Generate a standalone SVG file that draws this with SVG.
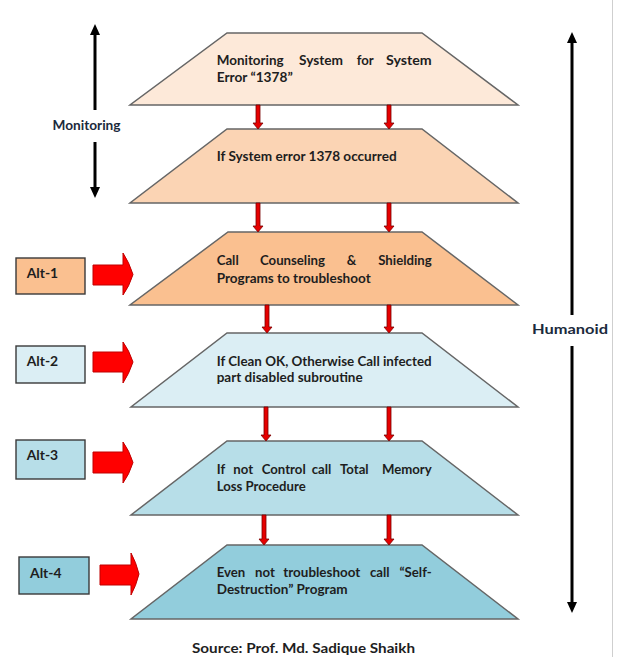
<svg xmlns="http://www.w3.org/2000/svg" width="617" height="657" viewBox="0 0 617 657">
<defs>
<style>
.trap{stroke:#666666;stroke-width:1.5;}
.alt{stroke:#3a3a3a;stroke-width:1.4;}
.t{font-family:Lato,"Open Sans","Liberation Sans",sans-serif;font-weight:bold;font-size:13.2px;fill:#1e1e1e;}
.lbl{font-family:Lato,"Open Sans","Liberation Sans",sans-serif;font-weight:bold;font-size:13px;fill:#1b2a3c;}
.thin{fill:#e60000;stroke:#7a0000;stroke-width:0.8;}
.big{fill:#ff0000;stroke:#c00000;stroke-width:1;}
.blk{stroke:#000;stroke-width:3;fill:none;}
</style>
</defs>
<rect width="617" height="657" fill="#ffffff"/>
<line x1="612.5" y1="0" x2="612.5" y2="657" stroke="#cfcfcf" stroke-width="1"/>

<g id="node-1">
<polygon class="trap" fill="#fde9d9" points="227,33 422,33 518,105 130,105"/>
<text class="t" x="216.7" y="65" textLength="67" lengthAdjust="spacingAndGlyphs">Monitoring</text>
<text class="t" x="299" y="65" textLength="44" lengthAdjust="spacingAndGlyphs">System</text>
<text class="t" x="356.7" y="65" textLength="17" lengthAdjust="spacingAndGlyphs">for</text>
<text class="t" x="386" y="65" textLength="45.7" lengthAdjust="spacingAndGlyphs">System</text>
<text class="t" x="216.7" y="82" textLength="76" lengthAdjust="spacingAndGlyphs">Error “1378”</text>
</g>

<g id="node-2">
<polygon class="trap" fill="#fbd4b4" points="227,129 422,129 518,203 130,203"/>
<text class="t" x="216.7" y="161" textLength="180" lengthAdjust="spacingAndGlyphs">If System error 1378 occurred</text>
</g>

<g id="node-3">
<polygon class="trap" fill="#fac090" points="228,232 422,232 518,305 130,305"/>
<text class="t" x="216.7" y="265">Call</text>
<text class="t" x="260" y="265">Counseling</text>
<text class="t" x="346.7" y="265">&amp;</text>
<text class="t" x="431.7" y="265" text-anchor="end">Shielding</text>
<text class="t" x="216.7" y="282.5" textLength="154" lengthAdjust="spacingAndGlyphs">Programs to troubleshoot</text>
</g>

<g id="node-4">
<polygon class="trap" fill="#dbeef4" points="227,333 422,333 518,407 131,407"/>
<text class="t" x="216.7" y="366" textLength="215" lengthAdjust="spacingAndGlyphs">If Clean OK, Otherwise Call infected</text>
<text class="t" x="216.7" y="382" textLength="146" lengthAdjust="spacingAndGlyphs">part disabled subroutine</text>
</g>

<g id="node-5">
<polygon class="trap" fill="#b7dee8" points="227,441 422,441 518,515 131,515"/>
<text class="t" x="216.7" y="473.5">If</text>
<text class="t" x="233.3" y="473.5">not</text>
<text class="t" x="261.7" y="473.5">Control</text>
<text class="t" x="311.7" y="473.5">call</text>
<text class="t" x="340" y="473.5">Total</text>
<text class="t" x="431.7" y="473.5" text-anchor="end">Memory</text>
<text class="t" x="216.7" y="490.5" textLength="89" lengthAdjust="spacingAndGlyphs">Loss Procedure</text>
</g>

<g id="node-6">
<polygon class="trap" fill="#92cddc" points="227,545 422,545 518,619 131,619"/>
<text class="t" x="216.7" y="577">Even</text>
<text class="t" x="255" y="577">not</text>
<text class="t" x="283.3" y="577" textLength="77" lengthAdjust="spacingAndGlyphs">troubleshoot</text>
<text class="t" x="370" y="577">call</text>
<text class="t" x="431.7" y="577" text-anchor="end">“Self-</text>
<text class="t" x="216.7" y="594" textLength="131" lengthAdjust="spacingAndGlyphs">Destruction” Program</text>
</g>

<g id="alt-1">
<rect class="alt" fill="#fac090" x="16" y="258" width="69" height="36"/>
<text class="t" x="26.7" y="277.5" textLength="31.5" lengthAdjust="spacingAndGlyphs">Alt-1</text>
</g>
<g id="alt-2">
<rect class="alt" fill="#dbeef4" x="16" y="346" width="69" height="37"/>
<text class="t" x="26.7" y="366" textLength="31.5" lengthAdjust="spacingAndGlyphs">Alt-2</text>
</g>
<g id="alt-3">
<rect class="alt" fill="#b7dee8" x="16" y="440" width="69" height="39"/>
<text class="t" x="26.7" y="460" textLength="31.5" lengthAdjust="spacingAndGlyphs">Alt-3</text>
</g>
<g id="alt-4">
<rect class="alt" fill="#92cddc" x="19" y="557" width="70" height="37"/>
<text class="t" x="30" y="578" textLength="31.5" lengthAdjust="spacingAndGlyphs">Alt-4</text>
</g>

<g id="label-monitoring">
<text class="lbl" x="86.5" y="130" text-anchor="middle" textLength="68" lengthAdjust="spacingAndGlyphs">Monitoring</text>
</g>
<g id="label-humanoid">
<text class="lbl" x="570" y="334" text-anchor="middle" textLength="76" lengthAdjust="spacingAndGlyphs">Humanoid</text>
</g>

<g id="connectors">
<path class="thin" d="M256,105 h4 v18 h3 l-5,6 l-5,-6 h3 z"/>
<path class="thin" d="M387,105 h4 v18 h3 l-5,6 l-5,-6 h3 z"/>
<path class="thin" d="M256,203 h4 v23 h3 l-5,6 l-5,-6 h3 z"/>
<path class="thin" d="M387,203 h4 v23 h3 l-5,6 l-5,-6 h3 z"/>
<path class="thin" d="M265,305 h4 v22 h3 l-5,6 l-5,-6 h3 z"/>
<path class="thin" d="M387,305 h4 v22 h3 l-5,6 l-5,-6 h3 z"/>
<path class="thin" d="M264,407 h4 v28 h3 l-5,6 l-5,-6 h3 z"/>
<path class="thin" d="M387,407 h4 v28 h3 l-5,6 l-5,-6 h3 z"/>
<path class="thin" d="M262,515 h4 v24 h3 l-5,6 l-5,-6 h3 z"/>
<path class="thin" d="M387,515 h4 v24 h3 l-5,6 l-5,-6 h3 z"/>
<path class="big" d="M93,265 H123 V253 Q129,262 133,274.5 Q129,287 123,295 V285 H93 Z"/>
<path class="big" d="M93,352 H123 V342 Q129,350 133,362 Q129,374 123,383 V372 H93 Z"/>
<path class="big" d="M93,452 H123 V442 Q129,450 133,462.5 Q129,475 123,483 V473 H93 Z"/>
<path class="big" d="M100,565 H131 V553 Q136,562 139,574 Q136,586 131,595 V585 H100 Z"/>
<line class="blk" x1="95" y1="34" x2="95" y2="110"/>
<polygon points="95,24 100,35 90,35" fill="#000"/>
<line class="blk" x1="95" y1="142" x2="95" y2="188"/>
<polygon points="95,198 100,187 90,187" fill="#000"/>
<line class="blk" x1="572" y1="42" x2="572" y2="315"/>
<polygon points="572,32 577,43 567,43" fill="#000"/>
<line class="blk" x1="572" y1="346" x2="572" y2="603"/>
<polygon points="572,613 577,602 567,602" fill="#000"/>
</g>

<text class="t" x="192" y="653" style="font-size:13.5px" textLength="223" lengthAdjust="spacingAndGlyphs">Source: Prof. Md. Sadique Shaikh</text>
</svg>
